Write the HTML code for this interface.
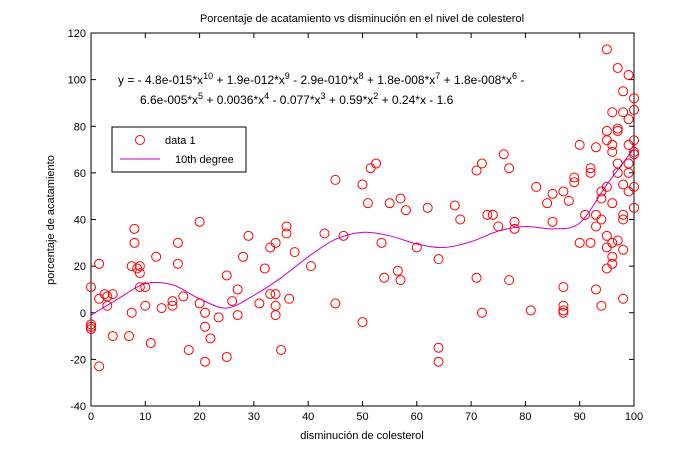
<!DOCTYPE html>
<html><head><meta charset="utf-8"><style>
body{margin:0;background:#fff}
svg text{font-family:"Liberation Sans",sans-serif;font-size:11px;fill:#000}
</style></head><body>
<svg id="c" width="700" height="456">
<defs><clipPath id="pa"><rect x="86" y="28" width="553" height="383"/></clipPath></defs>
<rect width="700" height="456" fill="#fff"/>
<text x="362" y="22" text-anchor="middle">Porcentaje de acatamiento vs disminución en el nivel de colesterol</text>
<text x="362" y="439" text-anchor="middle">disminución de colesterol</text>
<text transform="translate(54,220) rotate(-90)" text-anchor="middle">porcentaje de acatamiento</text>
<g id="ax"></g>
<g id="curve" clip-path="url(#pa)"></g>
<g id="pts" clip-path="url(#pa)"></g>
<text x="118" y="84" style="font-size:12px">y = - 4.8e-015*x<tspan dy="-5" style="font-size:9px">10</tspan><tspan dy="5"> + 1.9e-012*x</tspan><tspan dy="-5" style="font-size:9px">9</tspan><tspan dy="5"> - 2.9e-010*x</tspan><tspan dy="-5" style="font-size:9px">8</tspan><tspan dy="5"> + 1.8e-008*x</tspan><tspan dy="-5" style="font-size:9px">7</tspan><tspan dy="5"> + 1.8e-008*x</tspan><tspan dy="-5" style="font-size:9px">6</tspan><tspan dy="5"> -</tspan></text>
<text x="140" y="104" style="font-size:12px">6.6e-005*x<tspan dy="-5" style="font-size:9px">5</tspan><tspan dy="5"> + 0.0036*x</tspan><tspan dy="-5" style="font-size:9px">4</tspan><tspan dy="5"> - 0.077*x</tspan><tspan dy="-5" style="font-size:9px">3</tspan><tspan dy="5"> + 0.59*x</tspan><tspan dy="-5" style="font-size:9px">2</tspan><tspan dy="5"> + 0.24*x - 1.6</tspan></text>
<g>
<rect x="112" y="127" width="134" height="45" fill="#fff" stroke="#000"/>
<circle cx="140" cy="140" r="4.5" fill="none" stroke="#f00"/>
<text x="165" y="144">data 1</text>
<line x1="120" y1="159" x2="160" y2="159" stroke="#c0c"/>
<text x="175" y="163">10th degree</text>
</g>
</svg>
<script>
const xTicks=[0,10,20,30,40,50,60,70,80,90,100];
const yTicks=[-40,-20,0,20,40,60,80,100,120];
const dataX=[0,0,0,0,1.5,1.5,1.5,2.5,3,3,4,4,7,7.5,7.5,8,8,8.5,9,9,9,10,10,11,12,13,15,15,16,16,17,18,20,20,21,21,21,22,23.5,25,25,26,27,27,28,29,31,32,33,33,34,34,34,34,35,36,36,36.5,37.5,40.5,43,45,45,46.5,50,50,51,51.5,52.5,53.5,54,55,56.5,57,57,58,60,62,64,64,64,67,68,71,71,72,72,73,74,75,76,77,77,78,78,81,82,84,85,85,87,87,87,87,87,88,89,89,90,90,91,92,92,92,93,93,93,93,94,94,94,94,95,95,95,95,95,95,95,96,96,96,96,96,96,96,97,97,97,97,97,97,98,98,98,98,98,98,98,99,99,99,99,99,99,100,100,100,100,100,100,100,100];
const dataY=[-5,-6,-7,11,21,6,-23,8,3,7,8,-10,-10,20,0,30,36,19,11,17,20,3,11,-13,24,2,3,5,21,30,7,-16,39,4,0,-6,-21,-11,-2,16,-19,5,-1,10,24,33,4,19,28,8,-1,3,8,30,-16,34,37,6,26,20,34,57,4,33,-4,55,47,62,64,30,15,47,18,49,14,44,28,45,23,-15,-21,46,40,15,61,64,0,42,42,37,68,62,14,39,36,1,54,47,39,51,11,3,1,0,52,48,56,58,72,30,42,30,60,62,71,37,42,10,40,52,49,3,54,74,78,113,19,28,33,30,24,21,72,69,47,86,79,78,64,60,31,105,95,55,42,40,27,6,86,83,64,60,72,52,102,92,87,74,69,68,54,45];
const fitX=[0,5,10,15,20,25,30,35,40,45,50,55,60,65,70,75,80,85,90,95,100];
const fitY=[-1,6,12.5,12,6,2,7.5,15,24,31.5,34.5,33,29.5,28,30.5,35,37,36,38.5,55,70.5];
const X0=91,X1=634,Y0=406,Y1=33;
const sx=v=>X0+(v-0)/(100)*(X1-X0);
const sy=v=>Y0-(v+40)/160*(Y0-Y1);
const NS='http://www.w3.org/2000/svg';
function mk(t,a,p){const e=document.createElementNS(NS,t);for(const k in a)e.setAttribute(k,a[k]);p.appendChild(e);return e;}
const ax=document.getElementById('ax');
const frame=mk('rect',{x:X0,y:Y1,width:X1-X0,height:Y0-Y1,fill:'none',stroke:'#000'},ax);


xTicks.forEach(v=>{const x=sx(v);
mk('line',{x1:x,y1:Y0,x2:x,y2:Y0-5,stroke:'#000'},ax);mk('line',{x1:x,y1:Y1,x2:x,y2:Y1+5,stroke:'#000'},ax);
const t=mk('text',{x:x,y:Y0+14,'text-anchor':'middle'},ax);t.textContent=v;

});
yTicks.forEach(v=>{const y=sy(v);
mk('line',{x1:X0,y1:y,x2:X0+5,y2:y,stroke:'#000'},ax);mk('line',{x1:X1,y1:y,x2:X1-5,y2:y,stroke:'#000'},ax);
const t=mk('text',{x:X0-5,y:y+4,'text-anchor':'end'},ax);t.textContent=v;

});
const pts=document.getElementById('pts');
const n=Math.min(dataX.length,dataY.length);
for(let i=0;i<n;i++){const c=mk('circle',{cx:sx(dataX[i]),cy:sy(dataY[i]),r:4.5,fill:'none',stroke:'#f00'},pts);

}
const P=fitX.map((v,i)=>[sx(v),sy(fitY[i])]);
let d='M'+P[0][0]+','+P[0][1];
for(let i=0;i<P.length-1;i++){const p0=P[Math.max(0,i-1)],p1=P[i],p2=P[i+1],p3=P[Math.min(P.length-1,i+2)];
d+=' C'+(p1[0]+(p2[0]-p0[0])/6)+','+(p1[1]+(p2[1]-p0[1])/6)+' '+(p2[0]-(p3[0]-p1[0])/6)+','+(p2[1]-(p3[1]-p1[1])/6)+' '+p2[0]+','+p2[1];}
const cp=mk('path',{d:d,fill:'none',stroke:'#c0c','stroke-width':1},document.getElementById('curve'));


</script>
</body></html>
